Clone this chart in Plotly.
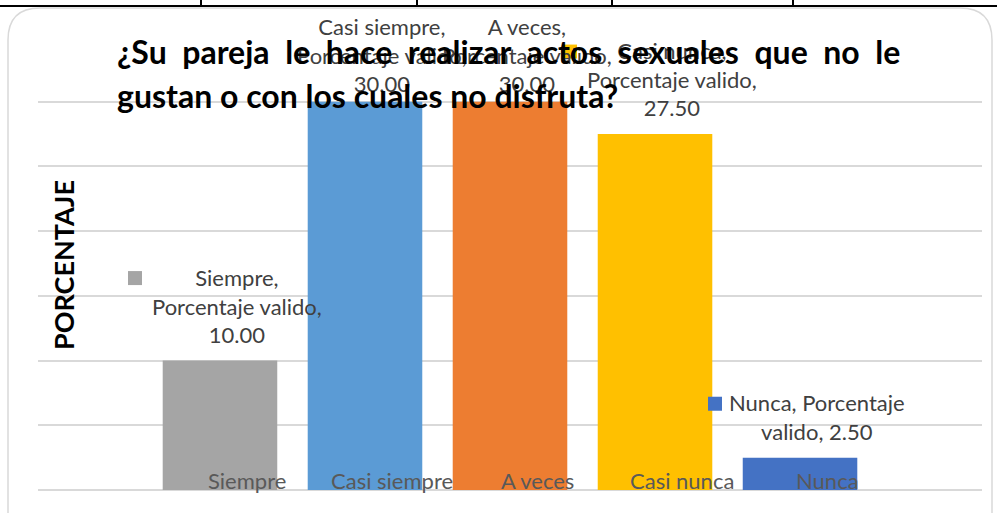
import plotly.graph_objects as go

categories = ["Siempre", "Casi siempre", "A veces", "Casi nunca", "Nunca"]
values = [10.00, 30.00, 30.00, 27.50, 2.50]
colors = ["#A5A5A5", "#5B9BD5", "#ED7D31", "#FFC000", "#4472C4"]
label_lines = [3, 3, 3, 3, 2]
series_name = "Porcentaje valido"
title_lines = ["¿Su pareja le hace realizar actos sexuales que no le",
               "gustan o con los cuales no disfruta?"]
y_title = "PORCENTAJE"

W, H = 997, 513
L, R, T, B = 38, 982, 37, 490
YMAX = 35

def px(x):
    return (x - L) / (R - L)

def py(y):
    return (B - y) / (B - T)

FONT = "Lato, 'Open Sans', sans-serif"
LFS = 22
LH = 1.3 * LFS
YS = 11
LABEL_TOP_MIN = 13  # labels kept inside the chart area

fig = go.Figure()
fig.add_trace(go.Bar(x=categories, y=values, marker=dict(color=colors, line=dict(width=0)),
                     width=0.79, hoverinfo="skip"))

annotations = []
shapes = []
for c, v, col, n in zip(categories, values, colors, label_lines):
    if n == 3:
        txt = f"{c},<br>{series_name},<br>{v:.2f}"
    else:
        words = series_name.split(" ")
        txt = f"{c}, {words[0]}<br>{words[1]}, {v:.2f}"
    bar_top_px = B - v / YMAX * (B - T)
    ys = min(YS, bar_top_px - n * LH - LABEL_TOP_MIN)
    annotations.append(dict(x=c, y=v, xref="x", yref="y", text=txt, showarrow=False,
                            yanchor="bottom", xanchor="center", xshift=17, yshift=ys,
                            align="center", font=dict(family=FONT, size=LFS, color="#404040")))
    cy = ys + (n - 0.5) * LH
    shapes.append(dict(type="rect", xref="x", yref="y", xsizemode="pixel", ysizemode="pixel",
                       xanchor=c, yanchor=v, x0=-92, x1=-78, y0=cy - 7, y1=cy + 7,
                       fillcolor=col, line=dict(width=0), layer="above"))
    annotations.append(dict(x=c, y=0, xref="x", yref="y", text=c, showarrow=False,
                            yanchor="middle", xanchor="center", xshift=27, yshift=10,
                            font=dict(family=FONT, size=22, color="#595959")))

annotations.append(dict(x=px(63), y=py(265), xref="paper", yref="paper", text=f"<b>{y_title}</b>",
                        textangle=-90, showarrow=False, xanchor="center", yanchor="middle",
                        font=dict(family=FONT, size=27, color="#000000")))

line1 = "\u00a0\u00a0".join(title_lines[0].split(" "))
annotations.append(dict(x=px(115), y=py(52), xref="paper", yref="paper", text=f"<b>{line1}</b>",
                        showarrow=False, xanchor="left", yanchor="middle",
                        font=dict(family=FONT, size=32, color="#000000")))
annotations.append(dict(x=px(115), y=py(95), xref="paper", yref="paper", text=f"<b>{title_lines[1]}</b>",
                        showarrow=False, xanchor="left", yanchor="middle",
                        font=dict(family=FONT, size=32, color="#000000")))

# chart border (rounded) and table lines above
r = 32
x0b, y0b, x1b, y1b = 8, 8, 992, 560
path = (f"M {px(x0b)},{py(y1b)} L {px(x0b)},{py(y0b + r)} "
        f"Q {px(x0b)},{py(y0b)} {px(x0b + r)},{py(y0b)} "
        f"L {px(x1b - r)},{py(y0b)} Q {px(x1b)},{py(y0b)} {px(x1b)},{py(y0b + r)} "
        f"L {px(x1b)},{py(y1b)}")
shapes.append(dict(type="path", xref="paper", yref="paper", path=path,
                   line=dict(color="#D9D9D9", width=1.5), layer="below"))
shapes.append(dict(type="line", xref="paper", yref="paper", x0=px(0), x1=px(997), y0=py(6), y1=py(6),
                   line=dict(color="#000000", width=2)))
for vx in [201, 417, 612, 793]:
    shapes.append(dict(type="line", xref="paper", yref="paper", x0=px(vx), x1=px(vx), y0=py(0), y1=py(6),
                       line=dict(color="#000000", width=2)))

fig.update_layout(
    width=W, height=H,
    margin=dict(l=L, r=W - R, t=T, b=H - B),
    paper_bgcolor="white", plot_bgcolor="white",
    showlegend=False,
    annotations=annotations, shapes=shapes,
    xaxis=dict(type="category", range=[-1.255, 5.255], showticklabels=False, showgrid=False,
               zeroline=False, showline=False, fixedrange=True),
    yaxis=dict(range=[0, YMAX], dtick=5, showticklabels=False, showgrid=True, gridcolor="#D9D9D9",
               gridwidth=1.5, zeroline=True, zerolinecolor="#D9D9D9", zerolinewidth=1.5,
               showline=False, fixedrange=True),
    bargap=0.2,
)

fig.write_html("out.html", config={"displayModeBar": False},
               post_script="document.body.style.margin='0';document.body.style.overflow='hidden';")
